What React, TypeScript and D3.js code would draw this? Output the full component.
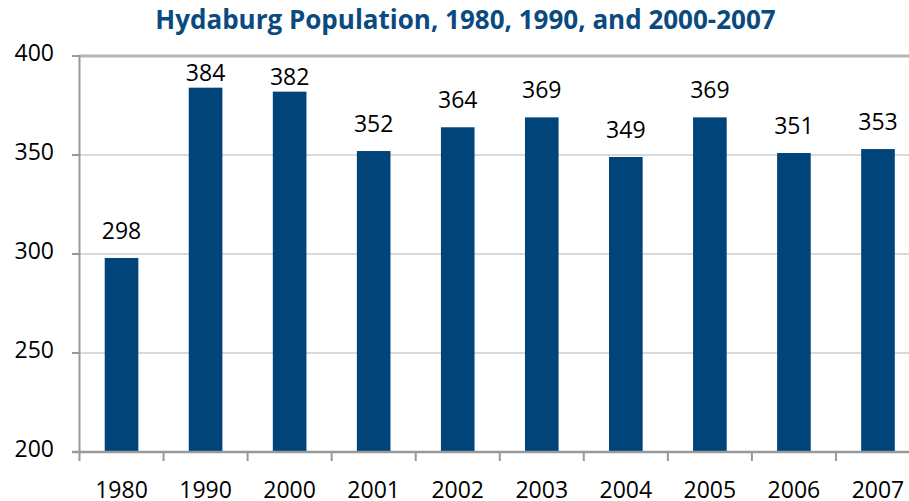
import React from "react";
import * as d3 from "d3";

const categories = ["1980", "1990", "2000", "2001", "2002", "2003", "2004", "2005", "2006", "2007"];
const values = [298, 384, 382, 352, 364, 369, 349, 369, 351, 353];
const yTicks = [200, 250, 300, 350, 400];
const title = "Hydaburg Population, 1980, 1990, and 2000-2007";

export default function App() {
  const W = 909, H = 501;
  const x = d3.scaleBand<string>().domain(categories).range([79.5, 920]).paddingInner(0.6).paddingOuter(0.3);
  const xs = d3.scaleBand<string>().domain(categories).range([79.5, 920]);
  const y = d3.scaleLinear().domain([200, 400]).range([452, 56]);
  const font = "'Open Sans', 'DejaVu Sans', sans-serif";
  const fs = 23;
  const labelY = (v: number) => (y(v) - 19 < 85 ? y(v) - 7 : y(v) - 19);
  return (
    <svg width={W} height={H} style={{ position: "absolute", left: 0, top: 0 }}>
      <rect width={W} height={H} fill="#fff" />
      <text x={465.5} y={29} textAnchor="middle" fontFamily={font} fontWeight="bold" fontSize={26} fill="#0b4a80">{title}</text>
      {yTicks.map((t) => (
        <g key={t}>
          {t !== 200 && (
            <line x1={79} x2={W} y1={y(t)} y2={y(t)} stroke={t === 400 ? "#b5b5b5" : "#d9d9d9"} strokeWidth={t === 400 ? 3 : 2} />
          )}
          <line x1={72} x2={80} y1={y(t)} y2={y(t)} stroke="#999" strokeWidth={2} />
          <text x={54} y={y(t) + 5} textAnchor="end" fontFamily={font} fontSize={fs} fill="#000">{t}</text>
        </g>
      ))}
      {categories.map((c, i) => (
        <g key={c}>
          <rect x={x(c)} y={y(values[i])} width={x.bandwidth()} height={y(200) - y(values[i])} fill="#004479" />
          <text x={x(c)! + x.bandwidth() / 2} y={labelY(values[i])} textAnchor="middle" fontFamily={font} fontSize={fs} fill="#000">{values[i]}</text>
          <text x={xs(c)! + xs.bandwidth() / 2} y={497.5} textAnchor="middle" fontFamily={font} fontSize={fs} fill="#000">{c}</text>
          <line x1={xs(c)! + xs.bandwidth()} x2={xs(c)! + xs.bandwidth()} y1={452} y2={461} stroke="#999" strokeWidth={2} />
        </g>
      ))}
      <line x1={79.5} x2={79.5} y1={55} y2={461} stroke="#999" strokeWidth={2} />
      <line x1={72} x2={W} y1={452} y2={452} stroke="#999" strokeWidth={2.5} />
    </svg>
  );
}
